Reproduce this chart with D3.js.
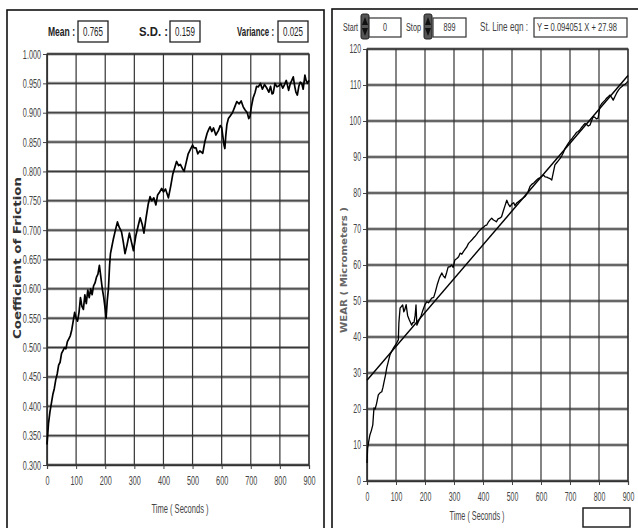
<!DOCTYPE html>
<html>
<head>
<meta charset="utf-8">
<script src="https://cdn.jsdelivr.net/npm/d3@7"></script>
<style>
  body { margin: 0; background: #fff; }
  svg text { font-family: "Liberation Sans", Arial, sans-serif; }
</style>
</head>
<body>
<svg id="chart" width="638" height="528"></svg>
<script>
// Coefficient of friction vs time (left panel)
const frictionTime = [0,5,10,15,20,25,30,35,40,45,50,55,60,65,70,75,80,85,90,95,100,105,110,115,120,125,130,135,140,145,150,155,160,165,170,175,180,185,190,195,200,203,207,211,215,218,222,228,235,242,248,256,262,268,275,283,290,297,305,312,320,327,333,340,348,354,360,367,374,380,387,394,400,407,417,425,432,438,445,452,458,465,471,478,485,493,500,505,512,518,525,535,542,550,556,560,566,572,580,589,595,600,604,608,611,614,618,623,630,637,645,652,660,667,674,680,688,693,697,702,708,715,720,726,733,740,747,755,762,768,773,777,783,790,797,803,810,816,822,830,836,841,846,851,855,860,865,870,875,880,886,890,895,900];
const frictionValue = [0.335,0.37,0.39,0.405,0.42,0.43,0.445,0.455,0.47,0.475,0.49,0.495,0.50,0.498,0.51,0.515,0.52,0.53,0.545,0.56,0.55,0.545,0.56,0.585,0.57,0.565,0.59,0.575,0.598,0.585,0.60,0.59,0.605,0.61,0.62,0.625,0.64,0.62,0.60,0.585,0.565,0.55,0.58,0.60,0.64,0.66,0.67,0.685,0.70,0.714,0.705,0.697,0.68,0.66,0.675,0.695,0.68,0.665,0.69,0.705,0.721,0.71,0.695,0.72,0.745,0.757,0.75,0.755,0.743,0.76,0.765,0.771,0.765,0.77,0.755,0.775,0.795,0.805,0.817,0.81,0.812,0.805,0.80,0.815,0.83,0.838,0.845,0.84,0.84,0.83,0.835,0.831,0.85,0.865,0.872,0.876,0.868,0.874,0.862,0.87,0.878,0.875,0.86,0.845,0.839,0.86,0.88,0.89,0.895,0.90,0.91,0.919,0.915,0.92,0.91,0.905,0.90,0.89,0.893,0.91,0.925,0.935,0.945,0.944,0.95,0.94,0.948,0.942,0.935,0.945,0.932,0.933,0.95,0.944,0.946,0.95,0.942,0.948,0.955,0.938,0.95,0.955,0.961,0.945,0.935,0.93,0.945,0.952,0.95,0.94,0.964,0.955,0.95,0.955];

// Wear vs time (right panel)
const wearTime = [0,2,6,10,15,20,24,28,33,39,45,51,55,59,64,68,73,79,85,91,100,108,110,114,119,123,127,130,135,140,146,150,154,158,162,166,169,172,176,180,187,193,200,206,212,218,223,230,236,242,250,258,263,269,275,280,286,292,297,303,310,316,321,327,333,339,344,350,356,362,367,372,378,384,390,396,402,408,413,419,425,430,436,441,446,452,458,464,470,476,482,487,493,500,506,510,516,522,528,535,540,545,550,556,562,568,575,580,585,590,596,602,608,614,620,625,631,637,642,648,654,660,666,672,677,683,688,694,700,706,711,717,722,728,734,740,746,752,758,763,769,774,780,786,791,797,803,809,815,821,827,833,838,844,849,855,861,867,873,879,884,890,895,899];
const wearValue = [5,9,11,12.8,14,15.6,20.3,20,21.5,23.9,24.5,24.8,26,27.6,29.5,31.4,33,35,36,36.9,38,39.2,44,48,48.5,48.9,47,47.5,49,46,44.7,44,43.3,44,44,46,48.9,43.3,44,44.7,46,47.5,49,49.8,49.5,50.2,50.8,51,52.6,54.5,56.5,57.8,57,56.4,58,59.5,59.5,60,59.3,61.4,61.8,62.3,63.3,63,63.8,64.5,65,66,66.5,67,67.5,67.9,68.5,69.2,69.7,70.2,70.5,71,71.1,72,72.6,73,72.5,72.3,72,72.8,73,73.4,75,76.5,78,77,76.2,77,77.3,76.5,77.2,77.6,78,78.4,78.7,79,79.6,80.5,81.8,82.4,82.8,83.2,83.6,84,84.2,84.6,85,84.5,84.4,84.2,84,83.6,85.5,87.8,88.4,89,89.6,90.4,91.2,92.4,93,93.8,94.5,95,95.6,96.2,96.8,97.1,97.5,98.2,98.8,99.3,99,98.6,98.9,100,101.2,101,100.6,100.8,104,104.8,105.3,105.8,106.4,106.8,107.2,106.5,105.8,106.8,107.8,108.6,109.2,109.6,110,110.2,110.6,111];

// straight line fit shown in the header
const fitSlope = 0.094051;
const fitIntercept = 27.98;

const timeTicks = [0,100,200,300,400,500,600,700,800,900];
const frictionTicks = [0.300,0.350,0.400,0.450,0.500,0.550,0.600,0.650,0.700,0.750,0.800,0.850,0.900,0.950,1.000];
const wearTicks = [0,10,20,30,40,50,60,70,80,90,100,110,120];

const leftStats = [
  { label: "Mean :", value: "0.765" },
  { label: "S.D. :", value: "0.159" },
  { label: "Variance :", value: "0.025" }
];

const svg = d3.select("#chart");

// squeeze text horizontally, the original uses a narrow font
function condense(sel, f) {
  sel.each(function() {
    const w = this.getComputedTextLength();
    d3.select(this).attr("textLength", w * f).attr("lengthAdjust", "spacingAndGlyphs");
  });
}
function fitTo(sel, w) {
  sel.attr("textLength", w).attr("lengthAdjust", "spacingAndGlyphs");
  return sel;
}

// panel frames
svg.append("rect").attr("x", 7).attr("y", 10).attr("width", 317).attr("height", 530)
  .attr("fill", "none").attr("stroke", "#111").attr("stroke-width", 1.6);
svg.append("rect").attr("x", 332).attr("y", 9).attr("width", 320).attr("height", 530)
  .attr("fill", "none").attr("stroke", "#111").attr("stroke-width", 1.6);

// draws grid, axes and border for one plot
function drawPlot(x, y, xTicks, yTicks, yFormat, fs) {
  const g = svg.append("g");
  const [x0, x1] = x.range();
  const [y0, y1] = y.range();

  g.selectAll(".hgrid").data(yTicks).enter().append("line")
    .attr("x1", x0).attr("x2", x1)
    .attr("y1", d => y(d)).attr("y2", d => y(d))
    .attr("stroke", "#9a9a9a").attr("stroke-width", 3);
  g.selectAll(".hgrid2").data(yTicks).enter().append("line")
    .attr("x1", x0).attr("x2", x1)
    .attr("y1", d => y(d)).attr("y2", d => y(d))
    .attr("stroke", "#333").attr("stroke-width", 1);
  g.selectAll(".vgrid").data(xTicks).enter().append("line")
    .attr("x1", d => x(d)).attr("x2", d => x(d))
    .attr("y1", y0).attr("y2", y1)
    .attr("stroke", "#333").attr("stroke-width", 1.2);

  const xAxis = g.append("g").attr("transform", `translate(0,${y0})`)
    .call(d3.axisBottom(x).tickValues(xTicks).tickSize(4).tickPadding(7));
  const yAxis = g.append("g").attr("transform", `translate(${x0},0)`)
    .call(d3.axisLeft(y).tickValues(yTicks).tickFormat(yFormat).tickSize(4).tickPadding(2));
  [xAxis, yAxis].forEach(a => {
    a.select(".domain").attr("stroke", "#333").attr("stroke-width", 1.2);
    a.selectAll(".tick line").attr("stroke", "#444");
    a.selectAll(".tick text").attr("font-size", fs).attr("fill", "#444")
      .style("font-family", '"Liberation Sans", Arial, sans-serif')
      .call(condense, 0.58);
  });
  g.append("rect").attr("x", x0).attr("y", y1).attr("width", x1 - x0).attr("height", y0 - y1)
    .attr("fill", "none").attr("stroke", "#333").attr("stroke-width", 1.2);
  return g;
}

// ---- left panel ----
const xL = d3.scaleLinear().domain([0, 900]).range([47, 309]);
const yL = d3.scaleLinear().domain([0.3, 1.0]).range([465, 54]);
const gL = drawPlot(xL, yL, timeTicks, frictionTicks, d3.format(".3f"), 12.5);

gL.append("path")
  .datum(frictionTime.map((t, i) => [t, frictionValue[i]]))
  .attr("fill", "none").attr("stroke", "#000").attr("stroke-width", 1.7)
  .attr("stroke-linejoin", "round")
  .attr("d", d3.line().x(d => xL(d[0])).y(d => yL(d[1])));

fitTo(svg.append("text").attr("transform", "translate(21,258) rotate(-90)")
  .attr("text-anchor", "middle").attr("font-size", 11).attr("font-weight", "bold")
  .attr("fill", "#333").style("font-family", '"DejaVu Sans", sans-serif')
  .text("Coefficient of Friction"), 162);
fitTo(svg.append("text").attr("x", 180).attr("y", 513).attr("text-anchor", "middle")
  .attr("font-size", 13.5).attr("fill", "#444").text("Time ( Seconds )"), 57);

// stats header
const statPos = [{ tx: 48, tw: 27, bx: 78 }, { tx: 139, tw: 29, bx: 170 }, { tx: 237, tw: 37, bx: 278 }];
leftStats.forEach((s, i) => {
  fitTo(svg.append("text").attr("x", statPos[i].tx).attr("y", 36)
    .attr("font-size", 13).attr("font-weight", "bold").attr("fill", "#222").text(s.label), statPos[i].tw);
  svg.append("rect").attr("x", statPos[i].bx).attr("y", 21).attr("width", 30).attr("height", 21)
    .attr("fill", "#fff").attr("stroke", "#222").attr("stroke-width", 1.3);
  fitTo(svg.append("text").attr("x", statPos[i].bx + 15).attr("y", 36).attr("text-anchor", "middle")
    .attr("font-size", 12).attr("fill", "#222").text(s.value), 20);
});

// ---- right panel ----
const xR = d3.scaleLinear().domain([0, 900]).range([367, 628]);
const yR = d3.scaleLinear().domain([0, 120]).range([481, 49]);
const gR = drawPlot(xR, yR, timeTicks, wearTicks, d3.format("d"), 12);

gR.append("path")
  .datum([0, 900].map(t => [t, fitSlope * t + fitIntercept]))
  .attr("fill", "none").attr("stroke", "#000").attr("stroke-width", 1.4)
  .attr("d", d3.line().x(d => xR(d[0])).y(d => yR(d[1])));
gR.append("path")
  .datum(wearTime.map((t, i) => [t, wearValue[i]]))
  .attr("fill", "none").attr("stroke", "#000").attr("stroke-width", 1.3)
  .attr("stroke-linejoin", "round")
  .attr("d", d3.line().x(d => xR(d[0])).y(d => yR(d[1])));

fitTo(svg.append("text").attr("transform", "translate(347,270) rotate(-90)")
  .attr("text-anchor", "middle").attr("font-size", 9).attr("font-weight", "bold")
  .attr("fill", "#666").style("font-family", '"DejaVu Sans", sans-serif')
  .text("WEAR ( Micrometers )"), 126);
fitTo(svg.append("text").attr("x", 477).attr("y", 520).attr("text-anchor", "middle")
  .attr("font-size", 13).attr("fill", "#444").text("Time ( Seconds )"), 55);

// empty indicator box bottom right
svg.append("rect").attr("x", 583).attr("y", 508).attr("width", 47).attr("height", 19)
  .attr("fill", "#fff").attr("stroke", "#222").attr("stroke-width", 1.5);

// start / stop controls
function spinner(x) {
  svg.append("rect").attr("x", x).attr("y", 14).attr("width", 8).attr("height", 25)
    .attr("rx", 2).attr("fill", "#555").attr("stroke", "#222");
  svg.append("path").attr("d", `M${x + 1},25 L${x + 4},17 L${x + 7},25 Z`).attr("fill", "#111");
  svg.append("path").attr("d", `M${x + 1},28 L${x + 4},36 L${x + 7},28 Z`).attr("fill", "#111");
}
function valueBox(x, w, txt, tw, anchor) {
  svg.append("rect").attr("x", x).attr("y", 18).attr("width", w).attr("height", 19)
    .attr("fill", "#fff").attr("stroke", "#333").attr("stroke-width", 1.2);
  fitTo(svg.append("text").attr("x", anchor === "start" ? x + 3 : x + w / 2).attr("y", 31)
    .attr("text-anchor", anchor || "middle").attr("font-size", 10).attr("fill", "#333").text(txt), tw);
}
fitTo(svg.append("text").attr("x", 343).attr("y", 31).attr("font-size", 10).attr("fill", "#333").text("Start"), 15);
spinner(361);
valueBox(369, 32, "0", 4);
fitTo(svg.append("text").attr("x", 406).attr("y", 31).attr("font-size", 10).attr("fill", "#333").text("Stop"), 15);
spinner(424);
valueBox(433, 33, "899", 12);
fitTo(svg.append("text").attr("x", 480).attr("y", 31).attr("font-size", 13).attr("fill", "#444")
  .text("St. Line eqn :"), 48);
valueBox(534, 93, "Y =  " + fitSlope.toFixed(6) + "  X + " + fitIntercept.toFixed(2), 80, "start");
</script>
</body>
</html>
